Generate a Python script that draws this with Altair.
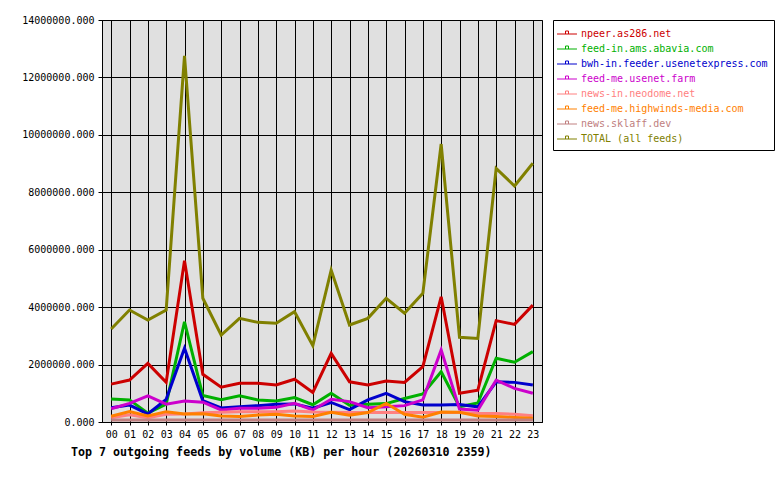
import altair as alt
import pandas as pd

hours = ["00", "01", "02", "03", "04", "05", "06", "07", "08", "09", "10", "11",
         "12", "13", "14", "15", "16", "17", "18", "19", "20", "21", "22", "23"]

series_names = [
    "npeer.as286.net",
    "feed-in.ams.abavia.com",
    "bwh-in.feeder.usenetexpress.com",
    "feed-me.usenet.farm",
    "news-in.neodome.net",
    "feed-me.highwinds-media.com",
    "news.sklaff.dev",
    "TOTAL (all feeds)",
]
series_colors = ["#cc0000", "#00b000", "#0000cc", "#cc00cc",
                 "#ff8080", "#ff8000", "#c08080", "#808000"]

npeer = [1320000, 1460000, 2040000, 1380000, 5620000, 1660000, 1210000, 1350000,
         1350000, 1290000, 1490000, 1030000, 2390000, 1400000, 1290000, 1430000,
         1380000, 1930000, 4360000, 1000000, 1110000, 3530000, 3400000, 4070000]
abavia = [800000, 770000, 310000, 620000, 3490000, 920000, 780000, 910000,
          770000, 730000, 850000, 600000, 1000000, 580000, 620000, 640000,
          820000, 980000, 1750000, 530000, 660000, 2220000, 2080000, 2450000]
bwh = [500000, 590000, 280000, 790000, 2570000, 740000, 490000, 530000,
       570000, 620000, 630000, 480000, 680000, 430000, 770000, 1000000,
       710000, 590000, 590000, 610000, 530000, 1400000, 1380000, 1290000]
farm = [460000, 650000, 910000, 620000, 730000, 690000, 420000, 480000,
        480000, 510000, 650000, 420000, 790000, 710000, 500000, 530000,
        570000, 770000, 2510000, 450000, 410000, 1460000, 1170000, 1000000]
neodome = [150000, 250000, 150000, 270000, 280000, 320000, 340000, 360000,
           360000, 360000, 380000, 350000, 340000, 330000, 330000, 330000,
           330000, 330000, 330000, 330000, 300000, 300000, 270000, 220000]
highwinds = [200000, 360000, 210000, 360000, 280000, 290000, 210000, 190000,
             240000, 270000, 210000, 190000, 340000, 240000, 330000, 650000,
             270000, 170000, 350000, 340000, 210000, 190000, 160000, 130000]
sklaff = [70000, 70000, 70000, 70000, 70000, 70000, 70000, 70000,
          70000, 70000, 70000, 70000, 70000, 70000, 70000, 70000,
          70000, 70000, 70000, 70000, 70000, 70000, 70000, 70000]
total = [3240000, 3900000, 3550000, 3900000, 12750000, 4310000, 3030000, 3610000,
         3470000, 3440000, 3840000, 2660000, 5290000, 3380000, 3610000, 4310000,
         3790000, 4480000, 9680000, 2950000, 2910000, 8830000, 8220000, 9010000]

all_series = [npeer, abavia, bwh, farm, neodome, highwinds, sklaff, total]
y_ticks = [0, 2000000, 4000000, 6000000, 8000000, 10000000, 12000000, 14000000]

rows = []
for name, vals in zip(series_names, all_series):
    for h, v in zip(hours, vals):
        rows.append({"hour": h, "feed": name, "kb": v})
df = pd.DataFrame(rows)

mono = "DejaVu Sans Mono"
names_js = "[" + ",".join("'" + n + "'" for n in series_names) + "]"
cols_js = "[" + ",".join("'" + c + "'" for c in series_colors) + "]"
label_color_expr = f"{cols_js}[indexof({names_js}, datum.label)]"

# symbol drawn a little wider than its nominal 15 px box
symbol_path = "M-1.33,0H1.33M-0.2,0V-0.4H0.2V0"

chart = alt.Chart(df).mark_line(strokeWidth=3, strokeJoin="miter").encode(
    x=alt.X("hour:N", sort=hours,
            scale=alt.Scale(type="point", padding=0.5),
            axis=alt.Axis(title=None, labelAngle=0, grid=True, tickSize=3,
                          labelPadding=4)),
    y=alt.Y("kb:Q", scale=alt.Scale(domain=[0, 14000000], nice=False),
            axis=alt.Axis(title=None, values=y_ticks, format=".3f", grid=True,
                          tickSize=4, labelPadding=4)),
    color=alt.Color("feed:N", sort=series_names,
                    scale=alt.Scale(domain=series_names, range=series_colors),
                    legend=alt.Legend(
                        title=None, orient="none", legendX=451, legendY=0,
                        direction="vertical",
                        fillColor="white", strokeColor="black", padding=6,
                        symbolType=symbol_path, symbolSize=225,
                        symbolStrokeWidth=1, symbolOffset=0,
                        labelFont=mono, labelFontSize=10,
                        labelOffset=6, rowPadding=2, labelLimit=400,
                        labelColor={"expr": label_color_expr},
                    )),
).properties(
    width=440, height=402,
    autosize=alt.AutoSizeParams(type="none"),
    padding={"left": 102, "top": 20, "right": 238, "bottom": 58},
    background="white",
    title=alt.TitleParams(
        "Top 7 outgoing feeds by volume (KB) per hour (20260310 2359)",
        orient="bottom", anchor="start", frame="group", dx=-31, offset=8,
        font=mono, fontSize=11.65, fontWeight="bold", color="black"),
).configure_view(
    fill="#e0e0e0", stroke="black", strokeWidth=1
).configure_axis(
    labelFont=mono, labelFontSize=10, labelColor="black",
    domainColor="black", tickColor="black", gridColor="black",
    gridOpacity=1, gridWidth=1, domainWidth=1, tickWidth=1
)

chart.save("out.html", embed_options={"renderer": "svg", "actions": False})
